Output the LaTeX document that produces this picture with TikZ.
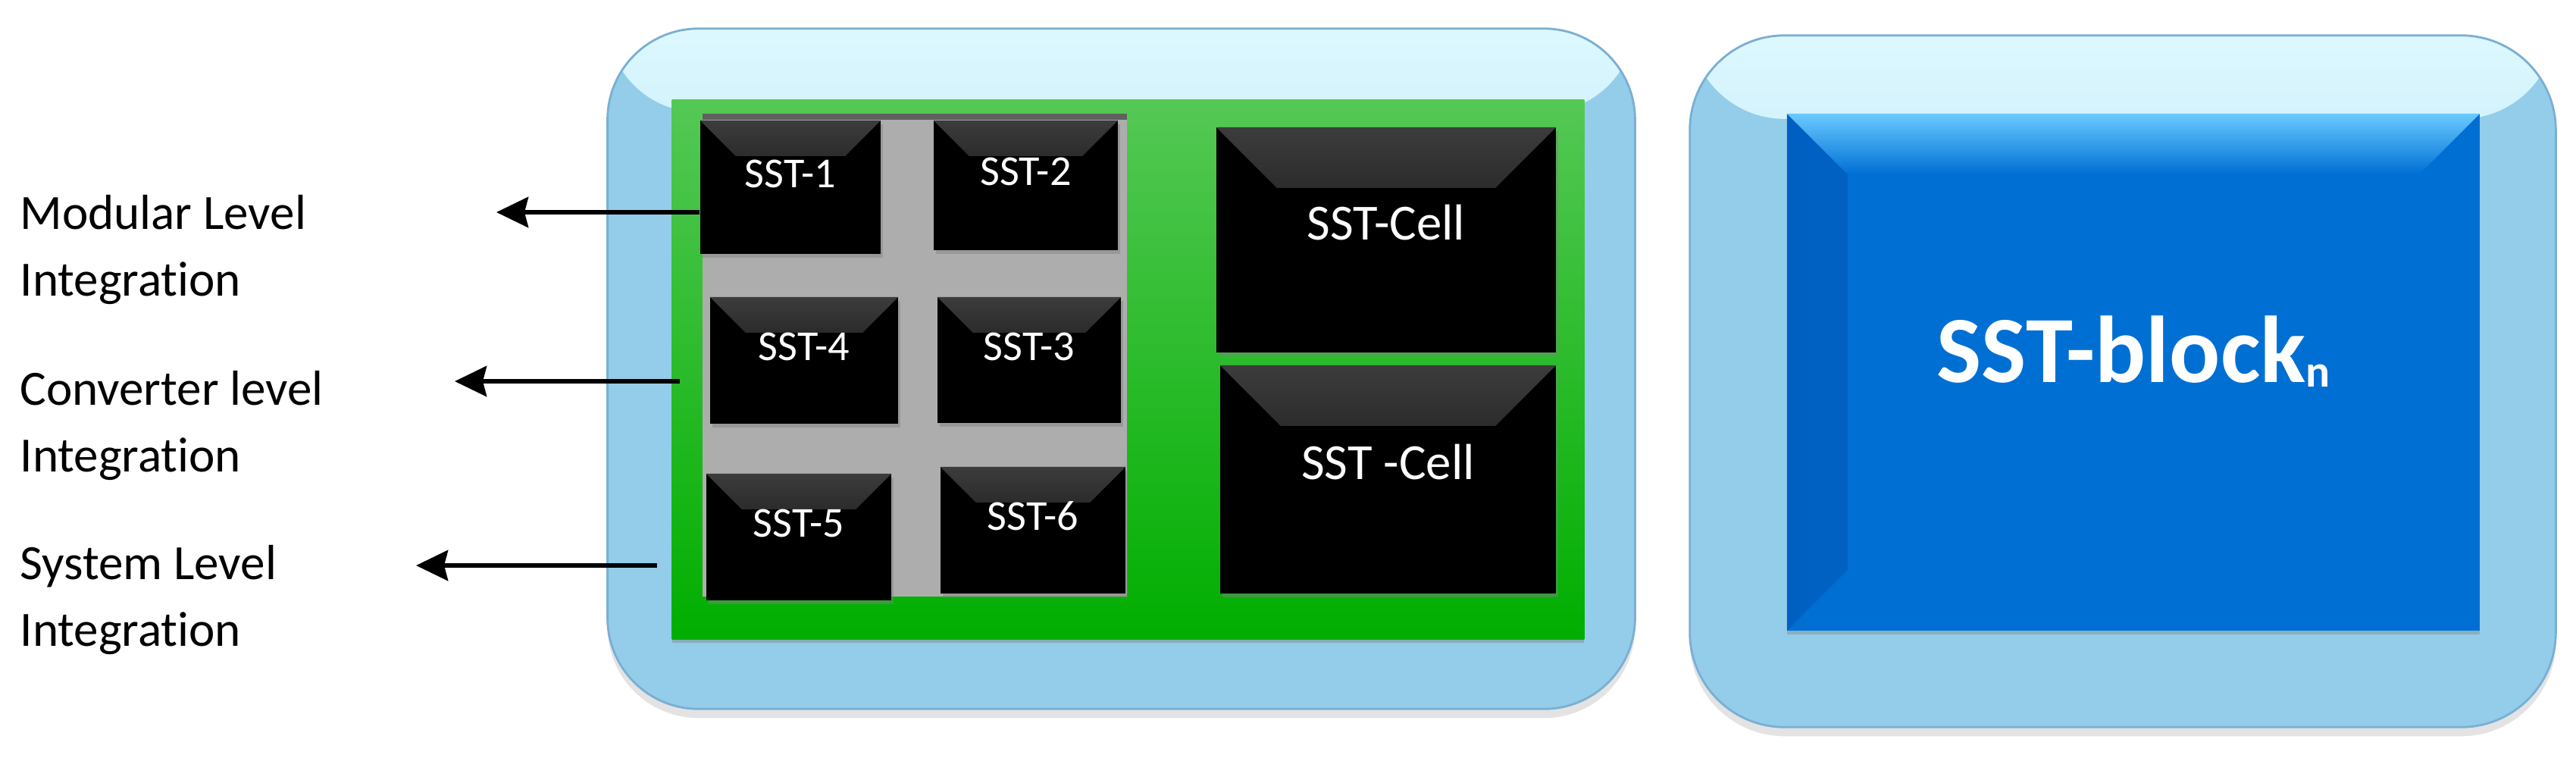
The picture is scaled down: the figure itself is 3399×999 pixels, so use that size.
\documentclass[tikz,border=0pt]{standalone}
\usepackage{fontspec}
\setmainfont{Carlito}[Ligatures=CommonOff]
\usetikzlibrary{arrows.meta,shadows}

\definecolor{frameblue}{HTML}{93CDEA}
\definecolor{framehi}{HTML}{DDF8FF}
\definecolor{frameedge}{HTML}{7AAFD2}
\definecolor{boardtop}{HTML}{55C855}
\definecolor{boardmid}{HTML}{10C020}
\definecolor{boardbot}{HTML}{00AE00}
\definecolor{gridgray}{HTML}{ADADAD}
\definecolor{bevelgray}{HTML}{3C3C3C}
\definecolor{blockblue}{HTML}{006FD4}
\definecolor{blockhi}{HTML}{6ACBFF}
\definecolor{blockdark}{HTML}{0060C2}

\tikzset{
  framebox/.style={draw=frameedge, line width=0.8pt, fill=frameblue, rounded corners=1.2cm, inner sep=0pt,
    drop shadow={shadow xshift=0cm, shadow yshift=-0.12cm, opacity=0.22},
    path picture={\shade[top color=framehi, bottom color=frameblue]
      (path picture bounding box.north west) rectangle ([yshift=-1.1cm]path picture bounding box.north east);}},
  board/.style={fill=boardbot, top color=boardtop, middle color=boardmid, bottom color=boardbot, inner sep=0pt,
    drop shadow={shadow xshift=0cm, shadow yshift=-0.05cm, opacity=0.45}},
  grid/.style={fill=gridgray, inner sep=0pt,
    path picture={\fill[gray!75!black] (path picture bounding box.north west) rectangle ([yshift=-0.08cm]path picture bounding box.north east);}},
  bevel/.style={path picture={\shade[top color=bevelgray, bottom color=black]
      (path picture bounding box.north west) -- (path picture bounding box.north east)
      -- ([xshift=-#1, yshift=-#1]path picture bounding box.north east)
      -- ([xshift=#1, yshift=-#1]path picture bounding box.north west) -- cycle;}},
  sstbox/.style={fill=black, text=white, inner sep=0pt, bevel=0.47cm,
    font=\fontsize{16}{16}\selectfont, text height=0.36cm, text depth=0.36cm,
    drop shadow={shadow xshift=0.03cm, shadow yshift=-0.05cm, opacity=0.45}},
  cellbox/.style={sstbox, bevel=0.8cm, font=\fontsize{19}{19}\selectfont, text height=0.42cm, text depth=0.42cm},
  blockbox/.style={fill=blockblue, text=white, inner sep=0pt, font=\bfseries\fontsize{35.6}{36}\selectfont,
    text height=0.8cm, text depth=0.54cm,
    drop shadow={shadow xshift=0cm, shadow yshift=-0.05cm, opacity=0.4},
    path picture={
      \shade[left color=blockdark, right color=blockblue]
        (path picture bounding box.north west) -- ([xshift=0.8cm, yshift=-0.8cm]path picture bounding box.north west)
        -- ([xshift=0.8cm, yshift=0.8cm]path picture bounding box.south west) -- (path picture bounding box.south west) -- cycle;
      \shade[top color=blockhi, bottom color=blockblue]
        (path picture bounding box.north west) -- (path picture bounding box.north east)
        -- ([xshift=-0.8cm, yshift=-0.8cm]path picture bounding box.north east)
        -- ([xshift=0.8cm, yshift=-0.8cm]path picture bounding box.north west) -- cycle;}},
  lvl/.style={align=left, anchor=base west, inner sep=0pt, font=\fontsize{18.5}{24.75}\selectfont},
  arr/.style={line width=0.06cm, -{Stealth[length=0.42cm, width=0.4cm, inset=0.05cm]}}
}

\begin{document}
\begin{tikzpicture}[x=0.01cm,y=-0.01cm]
\useasboundingbox (0,0) rectangle (3399,999);
\node[framebox, minimum width=13.55cm, minimum height=8.97cm] (blk1) at (1479.5,486.5) {};
\node[framebox, rounded corners=1.25cm, minimum width=11.42cm, minimum height=9.12cm] (blk2) at (2801,503) {};
\node[board, minimum width=12.03cm, minimum height=7.11cm] (board) at (1488.5,487.5) {};
\node[grid, minimum width=5.6cm, minimum height=6.37cm] (grid) at (1207,468.5) {};
\node[sstbox, minimum width=2.38cm, minimum height=1.76cm] (sst1) at (1043,247) {SST-1};
\node[sstbox, minimum width=2.43cm, minimum height=1.71cm] (sst2) at (1353.5,244.5) {SST-2};
\node[sstbox, minimum width=2.48cm, minimum height=1.67cm] (sst4) at (1061,475.5) {SST-4};
\node[sstbox, minimum width=2.42cm, minimum height=1.66cm] (sst3) at (1358,475) {SST-3};
\node[sstbox, minimum width=2.44cm, minimum height=1.67cm] (sst5) at (1054,708.5) {SST-5};
\node[sstbox, minimum width=2.44cm, minimum height=1.67cm] (sst6) at (1363,699.5) {SST-6};
\node[cellbox, minimum width=4.48cm, minimum height=2.97cm] (cell1) at (1829,316.5) {SST-Cell};
\node[cellbox, minimum width=4.43cm, minimum height=3.01cm] (cell2) at (1831.5,632.5) {SST -Cell};
\node[blockbox, minimum width=9.14cm, minimum height=6.82cm] (blockn) at (2815,491) {SST-block\raisebox{-0.06cm}{\fontsize{17}{17}\selectfont n}};
\node[lvl] (modlbl) at (26,390) {Modular Level\\Integration};
\node[lvl] (convlbl) at (26,622) {Converter level\\Integration};
\node[lvl] (syslbl) at (26,852) {System Level\\Integration};
\coordinate (modsrc) at (sst1.west |- 0,280);
\coordinate (modtip) at (655,280);
\coordinate (convsrc) at (897,503);
\coordinate (convtip) at (600,503);
\coordinate (syssrc) at (867,746);
\coordinate (systip) at (549,746);
\draw[arr] (modsrc) -- (modtip);
\draw[arr] (convsrc) -- (convtip);
\draw[arr] (syssrc) -- (systip);
\end{tikzpicture}
\end{document}
